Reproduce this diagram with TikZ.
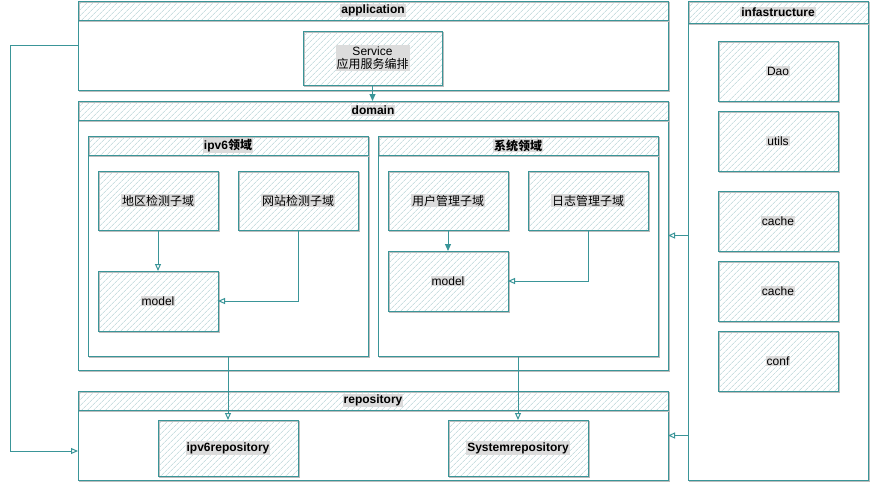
\documentclass[tikz,border=0pt]{standalone}
\usepackage{fontspec}
\setmainfont{Liberation Sans}
\newfontfamily\cjk{Noto Sans CJK SC}
\usetikzlibrary{patterns.meta,arrows.meta}
\definecolor{tealline}{HTML}{3A9598}
\definecolor{hatch}{HTML}{AFCFD1}
\definecolor{lblgray}{HTML}{DCDCDC}
\definecolor{shade}{HTML}{BDBDBD}
\setlength{\fboxsep}{1pt}
\newcommand{\lb}[1]{\colorbox{lblgray}{#1}}
\newcommand{\basefont}{\fontsize{12pt}{14pt}\selectfont}
\tikzset{
  sketch/.style={draw=tealline, line width=1pt, inner sep=0pt, outer sep=0pt,
    preaction={draw=shade, line width=0.5pt, transform canvas={shift={(1.5pt,-1.5pt)}}}},
  frame/.style={sketch, fill=white, anchor=north west},
  hdr/.style={sketch, anchor=north west, font=\basefont\bfseries,
    pattern={Lines[angle=45,distance=4pt,line width=0.6pt]}, pattern color=hatch},
  cell/.style={sketch, anchor=north west, align=center, font=\basefont,
    pattern={Lines[angle=45,distance=4pt,line width=0.6pt]}, pattern color=hatch},
  flow/.style={draw=tealline, line width=1pt, -{Triangle[length=7pt,width=6pt]}},
  flowo/.style={draw=tealline, line width=1pt, -{Triangle[open,length=7pt,width=6pt]}}
}
\begin{document}
\begin{tikzpicture}[x=1pt,y=-1pt,font=\basefont]
  \useasboundingbox (0,0) rectangle (870,485);
  % application
  \node[frame, minimum width=590pt, minimum height=89pt] (app) at (78,1) {};
  \node[hdr, minimum width=590pt, minimum height=19pt] (apphd) at (78,1) {\lb{application}};
  \node[cell, minimum width=139pt, minimum height=54pt] (svc) at (303,31) {\lb{\shortstack{Service\\\cjk 应用服务编排}}};
  % domain
  \node[frame, minimum width=590pt, minimum height=269pt] (dom) at (78,101) {};
  \node[hdr, minimum width=590pt, minimum height=19pt] (domhd) at (78,101) {\lb{domain}};
  \node[frame, minimum width=280pt, minimum height=220pt] (ipv6) at (88,136) {};
  \node[hdr, minimum width=280pt, minimum height=19pt] (ipv6hd) at (88,136) {\lb{ipv6\cjk 领域}};
  \node[frame, minimum width=280pt, minimum height=220pt] (sys) at (378,136) {};
  \node[hdr, minimum width=280pt, minimum height=19pt] (syshd) at (378,136) {\lb{\cjk 系统领域}};
  \node[cell, minimum width=120pt, minimum height=59pt] (area) at (98,171) {\lb{\cjk 地区检测子域}};
  \node[cell, minimum width=120pt, minimum height=59pt] (site) at (238,171) {\lb{\cjk 网站检测子域}};
  \node[cell, minimum width=120pt, minimum height=60pt] (mdla) at (98,271) {\lb{model}};
  \node[cell, minimum width=120pt, minimum height=59pt] (user) at (388,171) {\lb{\cjk 用户管理子域}};
  \node[cell, minimum width=120pt, minimum height=59pt] (log) at (528,171) {\lb{\cjk 日志管理子域}};
  \node[cell, minimum width=120pt, minimum height=60pt] (mdlb) at (388,251) {\lb{model}};
  % repository
  \node[frame, minimum width=590pt, minimum height=89pt] (repo) at (78,391) {};
  \node[hdr, minimum width=590pt, minimum height=19pt] (repohd) at (78,391) {\lb{repository}};
  \node[cell, minimum width=140pt, minimum height=56pt, font=\basefont\bfseries] (ipv6repo) at (158,420) {\lb{ipv6repository}};
  \node[cell, minimum width=140pt, minimum height=56pt, font=\basefont\bfseries] (sysrepo) at (448,420) {\lb{Systemrepository}};
  % infastructure
  \node[frame, minimum width=180pt, minimum height=479pt] (infra) at (688,1) {};
  \node[hdr, minimum width=180pt, minimum height=22pt] (infrahd) at (688,1) {\lb{infastructure}};
  \foreach \n/\t/\y in {dao/Dao/41, utils/utils/111, cachea/cache/191, cacheb/cache/261, conf/conf/331}
    \node[cell, minimum width=120pt, minimum height=60pt] (\n) at (718,\y) {\lb{\t}};
  % connectors
  \coordinate (lft) at (10,451);
  \draw[flow] (svc.south) -- (svc.south |- domhd.north);
  \draw[flowo] (area.south) -- (mdla.north);
  \draw[flowo] (site.south) |- (mdla.east);
  \draw[flow] (user.south) -- (mdlb.north);
  \draw[flowo] (log.south) |- (mdlb.east);
  \draw[flowo] (ipv6.south) -- (ipv6repo.north);
  \draw[flowo] (sys.south) -- (sysrepo.north);
  \draw[flowo] (app.west) -| (lft) -- (lft -| repo.west);
  \draw[flowo] (dom.east -| infra.west) -- (dom.east);
  \draw[flowo] (repo.east -| infra.west) -- (repo.east);
\end{tikzpicture}
\end{document}
